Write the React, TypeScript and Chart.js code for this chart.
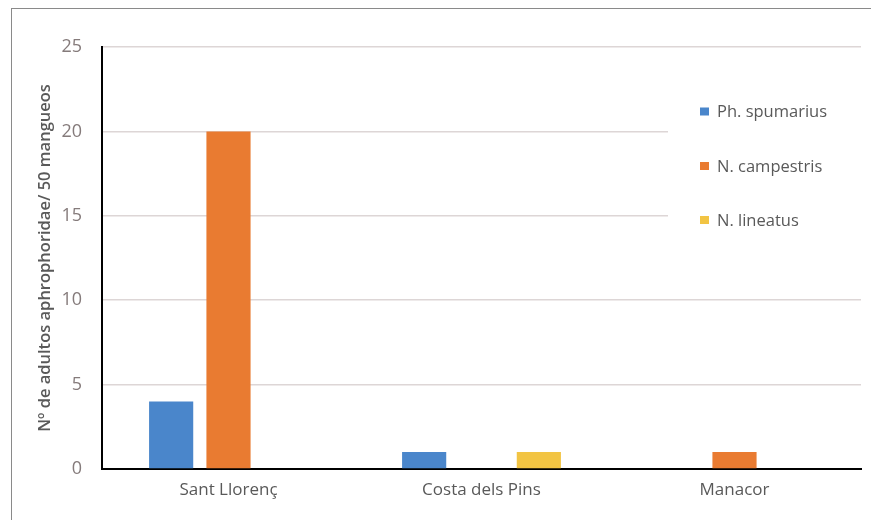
import React, { useEffect, useRef } from "react";
import { Chart, registerables } from "chart.js";

Chart.register(...registerables);

const categories = ["Sant Llorenç", "Costa dels Pins", "Manacor"];
const seriesNames = ["Ph. spumarius", "N. campestris", "N. lineatus"];
const spumarius = [4, 1, 0];
const campestris = [20, 0, 1];
const lineatus = [0, 1, 0];
const colors = ["#4a86cb", "#e97b31", "#f2c443"];
const yTicks = [0, 5, 10, 15, 20, 25];
const yTitle = "Nº de adultos aphrophoridae/ 50 mangueos";

const FONT = "'Open Sans', 'Liberation Sans', sans-serif";

const legendPlugin = {
  id: "customLegend",
  afterDraw(chart: any) {
    const ctx = chart.ctx;
    ctx.save();
    ctx.fillStyle = "#ffffff";
    ctx.fillRect(668, 70, 200, 180);
    const ys = [111.5, 166, 220];
    chart.data.datasets.forEach((ds: any, i: number) => {
      ctx.fillStyle = ds.backgroundColor;
      ctx.fillRect(700, ys[i] - 4, 9, 8);
      ctx.fillStyle = "#595959";
      ctx.font = `16.5px ${FONT}`;
      ctx.textBaseline = "middle";
      ctx.textAlign = "left";
      ctx.fillText(ds.label, 717, ys[i] + 1);
    });
    ctx.restore();
  },
};

export default function App() {
  const ref = useRef<HTMLCanvasElement | null>(null);
  useEffect(() => {
    if (!ref.current) return;
    const data = [spumarius, campestris, lineatus];
    const chart = new Chart(ref.current, {
      type: "bar",
      data: {
        labels: categories,
        datasets: seriesNames.map((name, i) => ({
          label: name,
          data: data[i],
          backgroundColor: colors[i],
          categoryPercentage: 0.68,
          barPercentage: 0.77,
        })),
      },
      options: {
        animation: false,
        responsive: false,
        maintainAspectRatio: false,
        layout: { padding: { left: 0, top: 47, right: 10, bottom: 0 } },
        plugins: {
          legend: { display: false },
          tooltip: { enabled: false },
        },
        scales: {
          x: {
            grid: { display: false, drawTicks: false },
            border: { display: true, color: "#000000", width: 2 },
            ticks: {
              color: "#595959",
              font: { family: FONT, size: 17 },
              padding: 11,
            },
            afterFit: (scale: any) => {
              scale.height = 51;
            },
          },
          y: {
            min: 0,
            max: 25,
            afterBuildTicks: (scale: any) => {
              scale.ticks = yTicks.map((v) => ({ value: v }));
            },
            grid: { color: "#ddd6d6", lineWidth: 1.5, drawTicks: false },
            border: { display: true, color: "#000000", width: 2 },
            ticks: {
              color: "#857b7b",
              font: { family: FONT, size: 18 },
              padding: 20,
            },
            title: {
              display: true,
              text: yTitle,
              color: "#595959",
              font: { family: FONT, size: 16.5, weight: "600" },
              padding: { top: 35, bottom: 0 },
            },
            afterFit: (scale: any) => {
              scale.width = 102;
            },
          },
        },
      },
      plugins: [legendPlugin],
    });
    return () => chart.destroy();
  }, []);
  return (
    <div
      style={{
        position: "fixed",
        left: 0,
        top: 0,
        width: 871,
        height: 520,
        background: "#ffffff",
        overflow: "hidden",
      }}
    >
      <div
        style={{
          position: "absolute",
          left: 11,
          top: 8,
          width: 870,
          height: 530,
          borderLeft: "1.5px solid #8a8a8a",
          borderTop: "1.5px solid #8a8a8a",
        }}
      />
      <canvas
        ref={ref}
        width={871}
        height={520}
        style={{ position: "absolute", left: 0, top: 0, width: 871, height: 520 }}
      />
    </div>
  );
}
